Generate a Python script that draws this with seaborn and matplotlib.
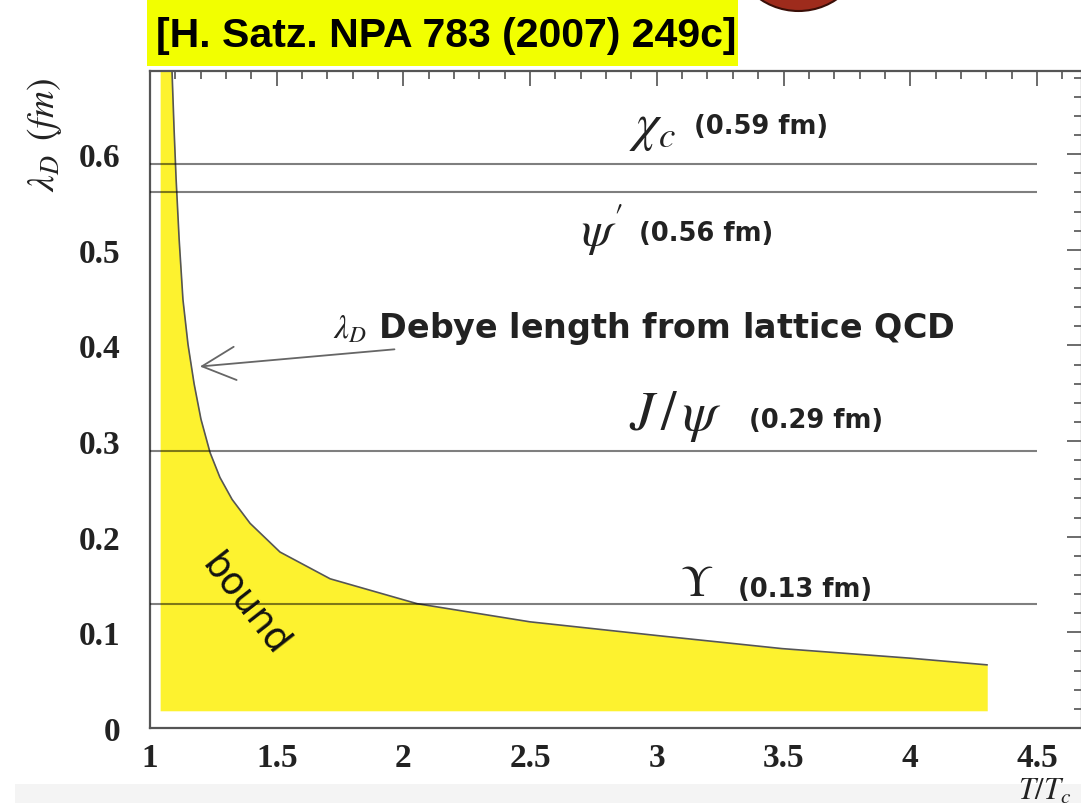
import numpy as np
import pandas as pd
import matplotlib
matplotlib.use("Agg")
import matplotlib.pyplot as plt
import seaborn as sns
from matplotlib.patches import Rectangle, Ellipse
from matplotlib.ticker import MultipleLocator

# ---- data ----
T_ratio = [1.087, 1.095, 1.103, 1.115, 1.130, 1.150, 1.174, 1.201, 1.237, 1.276,
           1.324, 1.395, 1.513, 1.711, 2.054, 2.500, 3.025, 3.495, 4.000, 4.304]
lambda_D = [0.686, 0.626, 0.574, 0.511, 0.448, 0.401, 0.360, 0.323, 0.288, 0.262,
            0.239, 0.214, 0.184, 0.156, 0.130, 0.111, 0.096, 0.083, 0.073, 0.066]
fill_left = 1.04
fill_bottom = 0.018

states = [r"$\chi_c$", r"$\psi'$", r"$J\,/\,\psi$", r"$\Upsilon$"]
state_radii = [0.59, 0.56, 0.29, 0.13]
radius_labels = ["(0.59 fm)", "(0.56 fm)", "(0.29 fm)", "(0.13 fm)"]

x_ticks = [1, 1.5, 2, 2.5, 3, 3.5, 4, 4.5]
y_ticks = [0, 0.1, 0.2, 0.3, 0.4, 0.5, 0.6]
x_tick_labels = ["1", "1.5", "2", "2.5", "3", "3.5", "4", "4.5"]
y_tick_labels = ["0", "0.1", "0.2", "0.3", "0.4", "0.5", "0.6"]

title = "[H. Satz. NPA 783 (2007) 249c]"

# ---- style ----
sns.set_theme(style="white")
plt.rcParams["font.family"] = ["DejaVu Sans"]
plt.rcParams["mathtext.fontset"] = "stix"

W, H = 1081, 804
fig = plt.figure(figsize=(W / 100, H / 100), dpi=100)
fig.patch.set_facecolor("white")

def fx(px):
    return px / W

def fy(py):
    return 1 - py / H

ax = fig.add_axes([fx(150), fy(729), fx(1081.5) - fx(150), fy(72) - fy(729)])
XMIN, XMAX = 1.0, 4.676
YMIN, YMAX = 0.0, 0.687
ax.set_xlim(XMIN, XMAX)
ax.set_ylim(YMIN, YMAX)

df = pd.DataFrame({"T": T_ratio, "lam": lambda_D})

fill_x = [fill_left] + T_ratio
fill_y = [YMAX + 0.05] + lambda_D
ax.fill_between(fill_x, fill_bottom, fill_y, color="#FDF22F", lw=0, zorder=1)
sns.lineplot(data=df, x="T", y="lam", ax=ax, color="#555555", lw=1.2, zorder=2)

ax.hlines(state_radii, XMIN, 4.5, colors="black", alpha=0.5, lw=1.5, zorder=3)

# labels of states
sym_pos = [(2.89, 0.630), (2.70, 0.521), (2.89, 0.327), (3.09, 0.152)]
lab_pos = [(3.145, 0.629), (2.93, 0.518), (3.365, 0.322), (3.32, 0.145)]
sym_size = [38, 36, 40, 32]
for s, (sx, sy), (lx, ly), lab, fs in zip(states, sym_pos, lab_pos, radius_labels, sym_size):
    ax.text(sx, sy, s, fontsize=fs, ha="left", va="center", color="#222222", zorder=4)
    ax.text(lx, ly, lab, fontsize=18.5, fontweight="bold", ha="left", va="center",
            color="#222222", zorder=4)

ax.annotate(r"$\lambda_D$ Debye length from lattice QCD", xy=(1.197, 0.378), xytext=(1.722, 0.419),
            fontsize=24, fontweight="bold", ha="left", va="center", color="#222222",
            arrowprops=dict(arrowstyle="->,head_length=1.0,head_width=0.5", color="#666666", lw=1.3,
                            shrinkA=2, shrinkB=0), zorder=4)

ax.text(1.375, 0.130, "bound", fontsize=27, rotation=-52, rotation_mode="anchor",
        ha="center", va="center", color="#111111", zorder=4)

# ticks
ax.set_xticks(x_ticks)
ax.set_xticklabels(x_tick_labels)
ax.set_yticks(y_ticks)
ax.set_yticklabels(y_tick_labels)
ax.xaxis.set_minor_locator(MultipleLocator(0.1))
ax.yaxis.set_minor_locator(MultipleLocator(0.02))
ax.tick_params(which="both", direction="in", top=True, right=True, color="#444444", width=1.1)
ax.tick_params(which="major", length=11)
ax.tick_params(which="minor", length=6)
ax.tick_params(axis="x", which="major", pad=10)
ax.tick_params(axis="y", which="major", pad=21)
for lbl in ax.get_xticklabels() + ax.get_yticklabels():
    lbl.set_fontfamily("Liberation Serif")
    lbl.set_fontweight("bold")
    lbl.set_fontsize(24)
    lbl.set_color("#222222")
for sp in ax.spines.values():
    sp.set_color("#555555")
    sp.set_linewidth(1.6)
ax.set_xlabel("")
ax.set_ylabel("")

fig.text(fx(45), fy(135), r"$\lambda_D$ $(fm)$", rotation=90, ha="center", va="center",
         fontsize=27, color="#222222", fontweight="bold")
fig.text(fx(1018), fy(791), r"$T/T_c$", ha="left", va="center", fontsize=22, color="#222222")

# title box
fig.patches.append(Rectangle((fx(147), fy(67)), fx(738) - fx(147), fy(0) - fy(67),
                             transform=fig.transFigure, facecolor="#F2FF00", edgecolor="none", zorder=0))
fig.text(fx(156), fy(36), title, fontsize=29.5, fontweight="bold", family="Liberation Sans",
         ha="left", va="center", color="black")

# red circle partially visible at top
fig.patches.append(Ellipse((fx(798.5), fy(-56)), 2 * 68 / W, 2 * 68 / H, transform=fig.transFigure,
                           facecolor="#9E2B1C", edgecolor="#3a0f08", lw=1.5, zorder=0))

# light gray band at bottom
fig.patches.append(Rectangle((fx(15), 0), 1 - fx(15), fy(785), transform=fig.transFigure,
                             facecolor="#F4F4F4", edgecolor="none", zorder=-1))

fig.savefig("out.png", dpi=100)
